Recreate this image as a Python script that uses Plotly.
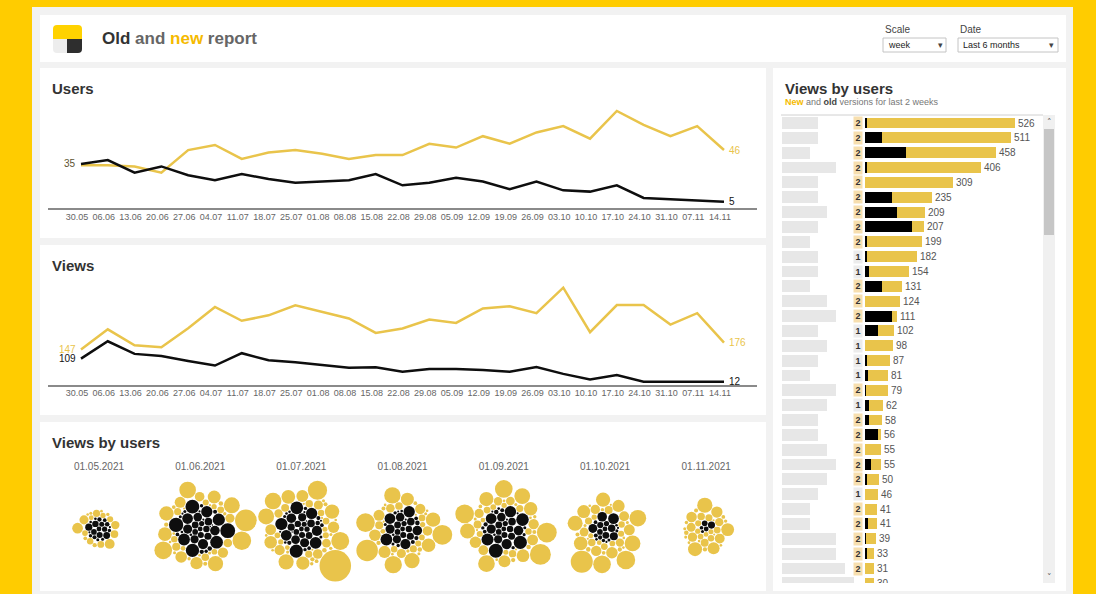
import math
import numpy as np
import plotly.graph_objects as go

W, H = 1096, 594

# ---------------- data ----------------
weeks = ["30.05", "06.06", "13.06", "20.06", "27.06", "04.07", "11.07", "18.07", "25.07",
         "01.08", "08.08", "15.08", "22.08", "29.08", "05.09", "12.09", "19.09", "26.09",
         "03.10", "10.10", "17.10", "24.10", "31.10", "07.11", "14.11"]
users_new = [34, 34, 33, 28, 46, 50, 39, 44, 46, 43, 39, 42, 42, 51, 48, 57, 51, 60, 65, 55, 77, 66, 57, 65, 46]
users_old = [35, 38, 28, 33, 26, 22, 27, 23, 20, 21, 22, 27, 18, 20, 24, 21, 15, 21, 14, 13, 18, 8, 7, 6, 5]
views_new = [147, 232, 165, 157, 237, 326, 268, 291, 333, 305, 278, 217, 236, 273, 259, 320, 329, 300,
             407, 220, 334, 334, 252, 300, 176]
views_old = [109, 182, 129, 120, 99, 80, 132, 102, 94, 84, 71, 73, 54, 66, 66, 61, 54, 74, 45, 22,
             40, 12, 12, 12, 12]

months = ["01.05.2021", "01.06.2021", "01.07.2021", "01.08.2021", "01.09.2021", "01.10.2021", "01.11.2021"]
month_new_views = [
    [50, 42, 36, 30, 26, 22, 20, 18, 16, 14, 12, 10, 8, 6, 5, 4, 3, 3],
    [204, 150, 135, 120, 110, 100, 90, 80, 72, 65, 58, 52, 46, 40, 36, 32, 28, 25, 22, 20, 18, 16, 14,
     12, 10, 9, 8, 7, 6, 5, 5, 4, 4, 3, 3, 3, 2, 2],
    [430, 160, 140, 120, 110, 100, 90, 82, 75, 68, 62, 56, 50, 45, 40, 36, 33, 30, 27, 24, 22, 20, 18,
     16, 14, 12, 11, 10, 9, 8, 7, 6, 5, 5, 4, 4, 4, 3, 3, 3, 2, 2, 2],
    [200, 170, 150, 130, 115, 100, 90, 80, 72, 65, 58, 52, 46, 40, 36, 32, 28, 25, 22, 20, 18, 16, 14,
     12, 10, 9, 8, 7, 6, 5, 4, 4, 3, 3, 3, 2, 2],
    [190, 170, 150, 135, 120, 108, 96, 86, 78, 70, 63, 57, 51, 46, 41, 37, 33, 30, 27, 24, 22, 20, 18,
     16, 14, 12, 11, 10, 9, 8, 7, 6, 5, 4, 4, 3, 3, 3, 2, 2],
    [210, 150, 135, 120, 108, 97, 88, 80, 72, 65, 58, 52, 47, 42, 38, 34, 30, 27, 24, 22, 20, 18, 16,
     14, 12, 11, 10, 9, 8, 7, 6, 5, 4, 4, 3, 3, 3, 2, 2],
    [100, 85, 72, 62, 55, 48, 42, 38, 34, 30, 27, 24, 22, 20, 18, 16, 14, 12, 11, 10, 9, 8, 7, 6, 5, 5,
     4, 4, 3, 3, 3, 2, 2],
]
month_old_views = [
    [22, 20, 18, 16, 14, 12, 11, 10, 9, 8, 7, 6, 5, 5, 4, 4, 3, 3, 2, 2],
    [95, 88, 82, 76, 70, 65, 60, 55, 50, 45, 40, 36, 32, 28, 25, 22, 20, 18, 16, 14, 12, 10, 9, 8, 7, 6,
     5, 5, 4, 4, 3, 3, 2, 2, 2, 1, 1],
    [75, 70, 65, 60, 55, 50, 45, 40, 36, 32, 28, 25, 22, 20, 18, 16, 14, 12, 11, 10, 9, 8, 7, 6, 6, 5, 5,
     4, 4, 3, 3, 3, 2, 2, 2, 1, 1],
    [60, 55, 50, 45, 40, 36, 32, 28, 25, 22, 20, 18, 16, 14, 12, 10, 9, 8, 7, 6, 5, 5, 4, 4, 3, 3, 2, 2],
    [85, 75, 68, 62, 56, 50, 45, 40, 36, 32, 28, 25, 22, 20, 18, 16, 14, 12, 10, 9, 8, 7, 6, 5, 5, 4, 4,
     3, 3, 2, 2, 2],
    [50, 40, 34, 28, 24, 20, 17, 14, 12, 10, 8, 7, 6, 5, 4, 4, 3, 3, 2, 2],
    [22, 14, 10, 6, 4],
]

top_total = [526, 511, 458, 406, 309, 235, 209, 207, 199, 182, 154, 131, 124, 111, 102, 98, 87, 81,
             79, 62, 58, 56, 55, 55, 50, 46, 41, 41, 39, 33, 31, 30]
top_old = [5, 58, 143, 6, 0, 94, 111, 164, 6, 6, 14, 58, 0, 96, 45, 0, 7, 12, 3, 14, 14, 47, 0, 21,
           7, 0, 0, 12, 3, 5, 0, 0]
top_versions = [2, 2, 2, 2, 2, 2, 2, 2, 2, 1, 1, 2, 2, 2, 1, 1, 1, 1, 2, 1, 2, 2, 2, 2, 2, 1, 2, 2,
                2, 2, 2, 1]

# ---------------- styling ----------------
FONT = "Arial, Liberation Sans, sans-serif"
GOLD = "#E9C44B"
INK = "#0E0E0E"
TICK = "#666666"
BG_YELLOW = "#FFCC00"
PANEL = "#F2F2F2"


def px(x):
    return x / W


def py(y):
    return 1 - y / H


def P(x, y):
    return f"{px(x):.5f},{py(y):.5f}"


shapes = []
annotations = []


def rect(x0, y0, x1, y1, fill, line=None, lw=1):
    shapes.append(dict(type="rect", xref="paper", yref="paper", x0=px(x0), x1=px(x1),
                       y0=py(y1), y1=py(y0), fillcolor=fill, layer="below",
                       line=dict(color=line or fill, width=lw if line else 0)))


def text(x, y, s, size=10, color="#333", anchor="left", yanchor="middle", family=FONT, **kw):
    annotations.append(dict(xref="paper", yref="paper", x=px(x), y=py(y), text=s, showarrow=False,
                            xanchor=anchor, yanchor=yanchor,
                            font=dict(size=size, color=color, family=family), **kw))


# page background, panel and cards
rect(32, 7, 1073, 594, PANEL)
rect(40, 15, 1066, 62, "#FFFFFF")
rect(40, 68, 766, 238, "#FFFFFF")
rect(40, 245, 766, 415, "#FFFFFF")
rect(40, 422, 766, 591, "#FFFFFF")
rect(773, 68, 1066, 591, "#FFFFFF")

# logo
shapes.append(dict(type="path", xref="paper", yref="paper", layer="above", line=dict(width=0),
                   fillcolor="#FFD200",
                   path=f"M{P(53,39)} L{P(53,29)} Q{P(53,25)} {P(57,25)} L{P(78,25)} Q{P(82,25)} {P(82,29)} L{P(82,39)} Z"))
shapes.append(dict(type="path", xref="paper", yref="paper", layer="above", line=dict(width=0),
                   fillcolor="#EDEDED",
                   path=f"M{P(53,39)} L{P(67,39)} L{P(67,53)} L{P(57,53)} Q{P(53,53)} {P(53,49)} Z"))
shapes.append(dict(type="path", xref="paper", yref="paper", layer="above", line=dict(width=0),
                   fillcolor="#2E2E2E",
                   path=f"M{P(67,39)} L{P(82,39)} L{P(82,49)} Q{P(82,53)} {P(78,53)} L{P(67,53)} Z"))

text(100, 39, "<b><span style='color:#333'>Old</span> <span style='color:#666'>and</span> "
              "<span style='color:#F5BA00'>new</span> <span style='color:#666'>report</span></b>",
     size=17)

# filter controls
text(883, 29, "Scale", size=10, color="#444")
text(958, 29, "Date", size=10, color="#444")
rect(883, 38, 946, 52, "#FFFFFF", line="#C4C4C4")
rect(958, 38, 1058, 52, "#FFFFFF", line="#C4C4C4")
text(886, 45, "week", size=9, color="#222")
text(961, 45, "Last 6 months", size=9, color="#222")
text(940, 45, "▾", size=9, color="#444", anchor="center", family="DejaVu Sans")
text(1051, 45, "▾", size=9, color="#444", anchor="center", family="DejaVu Sans")

# card titles
text(50, 88, "<b>Users</b>", size=15, color="#333")
text(50, 265, "<b>Views</b>", size=15, color="#333")
text(50, 442, "<b>Views by users</b>", size=15, color="#333")
text(783, 88, "<b>Views by users</b>", size=15, color="#333")
text(783, 102, "<b><span style='color:#F5BA00'>New</span></b> and <b><span style='color:#444'>old</span></b>"
               " versions for last 2 weeks", size=9, color="#777")

# table frame and scrollbar
shapes.append(dict(type="line", xref="paper", yref="paper", x0=px(781), x1=px(1043), y0=py(115),
                   y1=py(115), line=dict(color="#D0D0D0", width=1), layer="above"))
rect(1043, 115, 1055, 583, "#F0F0F0")
rect(1044, 129, 1054, 235, "#C6C6C6")
text(1049, 122, "˄", size=9, color="#555", anchor="center", family="DejaVu Sans")
text(1049, 577, "˅", size=9, color="#555", anchor="center", family="DejaVu Sans")

fig = go.Figure()

# ---------------- line charts ----------------
n = len(weeks)
xi = list(range(n))
x_lo = -(81 - 48) / 26.79
x_hi = (n - 1) + (757 - 724) / 26.79

for xa, ya, new, old in (("x", "y", users_new, users_old), ("x2", "y2", views_new, views_old)):
    fig.add_trace(go.Scatter(x=xi, y=new, mode="lines", line=dict(color=GOLD, width=2.5),
                             xaxis=xa, yaxis=ya, hoverinfo="skip"))
    fig.add_trace(go.Scatter(x=xi, y=old, mode="lines", line=dict(color=INK, width=2.5),
                             xaxis=xa, yaxis=ya, hoverinfo="skip"))

axis_common = dict(showgrid=False, zeroline=False, showline=True, linecolor="#8A8A8A", linewidth=1.5,
                   tickvals=xi, ticktext=weeks, ticks="", tickangle=0,
                   tickfont=dict(size=9, color=TICK, family=FONT),
                   range=[x_lo, x_hi], fixedrange=True, ticklabelshift=-4, ticklabelstandoff=-1)


def end_label(xa, ya, xv, yv, s, color, side):
    annotations.append(dict(xref=xa, yref=ya, x=xv, y=yv, text=s, showarrow=False,
                            xanchor="left" if side == "r" else "right",
                            xshift=3 if side == "r" else -3,
                            font=dict(size=10, color=color, family=FONT)))


end_label("x", "y", 0, users_old[0], str(users_old[0]), "#5C5330", "l")
end_label("x", "y", n - 1, users_new[-1], str(users_new[-1]), GOLD, "r")
end_label("x", "y", n - 1, users_old[-1], str(users_old[-1]), "#111", "r")
end_label("x2", "y2", 0, views_new[0], str(views_new[0]), GOLD, "l")
end_label("x2", "y2", 0, views_old[0], str(views_old[0]), "#111", "l")
end_label("x2", "y2", n - 1, views_new[-1], str(views_new[-1]), GOLD, "r")
end_label("x2", "y2", n - 1, views_old[-1], str(views_old[-1]), "#111", "r")


# ---------------- packed bubbles ----------------
R_SCALE = 0.76   # px of radius per sqrt(view)
GAP = 0.6
SMALL = 10       # users below this many views are packed last, into the gaps


def pack(radii):
    """Greedy front packing: each circle goes to the free tangent spot nearest the centre."""
    X, Y, R = [], [], []
    ang = np.linspace(0, 2 * np.pi, 24, endpoint=False)
    for r in radii:
        if not X:
            X.append(0.0); Y.append(0.0); R.append(r)
            continue
        ax, ay, ar = np.array(X), np.array(Y), np.array(R)
        d_single = ar[:, None] + r + GAP
        cx = [(ax[:, None] + d_single * np.cos(ang)).ravel()]
        cy = [(ay[:, None] + d_single * np.sin(ang)).ravel()]
        if len(X) > 1:
            i, j = np.triu_indices(len(X), 1)
            da, db = ar[i] + r + GAP, ar[j] + r + GAP
            dx, dy = ax[j] - ax[i], ay[j] - ay[i]
            d = np.hypot(dx, dy)
            ok = (d < da + db) & (d > np.abs(da - db)) & (d > 0)
            i, j, da, db, dx, dy, d = i[ok], j[ok], da[ok], db[ok], dx[ok], dy[ok], d[ok]
            a = (da ** 2 - db ** 2 + d ** 2) / (2 * d)
            h = np.sqrt(np.maximum(da ** 2 - a ** 2, 0))
            mx, my = ax[i] + a * dx / d, ay[i] + a * dy / d
            cx += [mx - h * dy / d, mx + h * dy / d]
            cy += [my + h * dx / d, my - h * dx / d]
        cx, cy = np.concatenate(cx), np.concatenate(cy)
        dist = np.hypot(cx[:, None] - ax[None, :], cy[:, None] - ay[None, :])
        free = np.all(dist >= ar[None, :] + r + GAP - 1e-6, axis=1)
        score = np.where(free, cx ** 2 + cy ** 2, np.inf)
        k = int(np.argmin(score))
        X.append(float(cx[k])); Y.append(float(cy[k])); R.append(r)
    return list(zip(X, Y, R))


def pack_order(values):
    big = sorted(v for v in values if v >= SMALL)
    small = sorted((v for v in values if v < SMALL), reverse=True)
    return big + small


CLUSTER_STEP = 101.2  # px between month centres
bx, by, bs, bc = [], [], [], []
for i in range(len(months)):
    old_o = pack_order(month_old_views[i])
    new_o = pack_order(month_new_views[i])
    radii = [R_SCALE * math.sqrt(v) for v in old_o + new_o]
    cols = [INK] * len(old_o) + [GOLD] * len(new_o)
    for (cx, cy, r), c in zip(pack(radii), cols):
        bx.append(i + cx / CLUSTER_STEP)
        by.append(cy)
        bs.append(2 * r)
        bc.append(c)

fig.add_trace(go.Scatter(x=bx, y=by, mode="markers", xaxis="x3", yaxis="y3", hoverinfo="skip",
                         cliponaxis=False,
                         marker=dict(size=bs, color=bc, line=dict(width=0), opacity=1)))

bx_lo = -(99 - 48) / CLUSTER_STEP
bx_hi = bx_lo + (757 - 48) / CLUSTER_STEP

# ---------------- top users bars ----------------
UNITS_PER_PX = 526 / 150.0
rows = list(range(len(top_total)))
row_lo = -(123 - 115) / 14.85
row_hi = (583 - 123) / 14.85
bar_x0 = -(865 - 781) * UNITS_PER_PX
bar_x1 = (1042 - 865) * UNITS_PER_PX

# redacted name blocks
name_px = [36, 36, 28, 54, 36, 36, 45, 36, 28, 36, 36, 28, 45, 54, 36, 45, 36, 28, 54, 45, 36, 36,
           45, 54, 45, 36, 28, 28, 54, 54, 63, 72]
fig.add_trace(go.Bar(y=rows, x=[w * UNITS_PER_PX for w in name_px], base=-(865 - 782) * UNITS_PER_PX,
                     orientation="h", width=0.8, marker=dict(color="#E7E7E7", line=dict(width=0)),
                     xaxis="x4", yaxis="y4", hoverinfo="skip"))
fig.add_trace(go.Bar(y=rows, x=top_total, orientation="h", width=0.74,
                     marker=dict(color=GOLD, line=dict(width=0)),
                     text=[str(v) for v in top_total], textposition="outside", constraintext="none",
                     textfont=dict(size=10, color="#555", family=FONT), cliponaxis=True,
                     xaxis="x4", yaxis="y4", hoverinfo="skip"))
fig.add_trace(go.Bar(y=rows, x=top_old, orientation="h", width=0.74,
                     marker=dict(color="#000000", line=dict(width=0)),
                     xaxis="x4", yaxis="y4", hoverinfo="skip"))

for r, v in zip(rows, top_versions):
    if r > row_hi:
        continue
    annotations.append(dict(xref="x4", yref="y4", x=-(865 - 858) * UNITS_PER_PX, y=r, text=f"<b>{v}</b>",
                            showarrow=False, xanchor="center", yanchor="middle",
                            bgcolor="#F7DFAF" if v == 2 else "#ECECEC", borderpad=1, width=6, height=10,
                            font=dict(size=9, color="#333", family=FONT)))

fig.update_layout(
    width=W, height=H, margin=dict(l=0, r=0, t=0, b=0),
    paper_bgcolor=BG_YELLOW, plot_bgcolor="rgba(0,0,0,0)",
    showlegend=False, barmode="overlay", bargap=0,
    shapes=shapes, annotations=annotations,
    xaxis=dict(domain=[px(48), px(757)], anchor="y", **axis_common),
    yaxis=dict(domain=[py(208), py(95)], range=[0, 89.7], visible=False, fixedrange=True),
    xaxis2=dict(domain=[px(48), px(757)], anchor="y2", **axis_common),
    yaxis2=dict(domain=[py(384.6), py(272)], range=[0, 473], visible=False, fixedrange=True),
    xaxis3=dict(domain=[px(48), px(757)], anchor="y3", side="top", range=[bx_lo, bx_hi],
                tickvals=list(range(len(months))), ticktext=months, ticks="", showline=False,
                showgrid=False, zeroline=False, ticklabelstandoff=5,
                tickfont=dict(size=10, color=TICK, family=FONT), fixedrange=True),
    yaxis3=dict(domain=[py(580), py(478)], range=[-51, 51], visible=False, fixedrange=True),
    xaxis4=dict(domain=[px(781), px(1042)], anchor="y4", range=[bar_x0, bar_x1], visible=False,
                fixedrange=True),
    yaxis4=dict(domain=[py(583), py(115)], range=[row_hi, row_lo], visible=False, fixedrange=True),
)

fig.write_html("out.html")
